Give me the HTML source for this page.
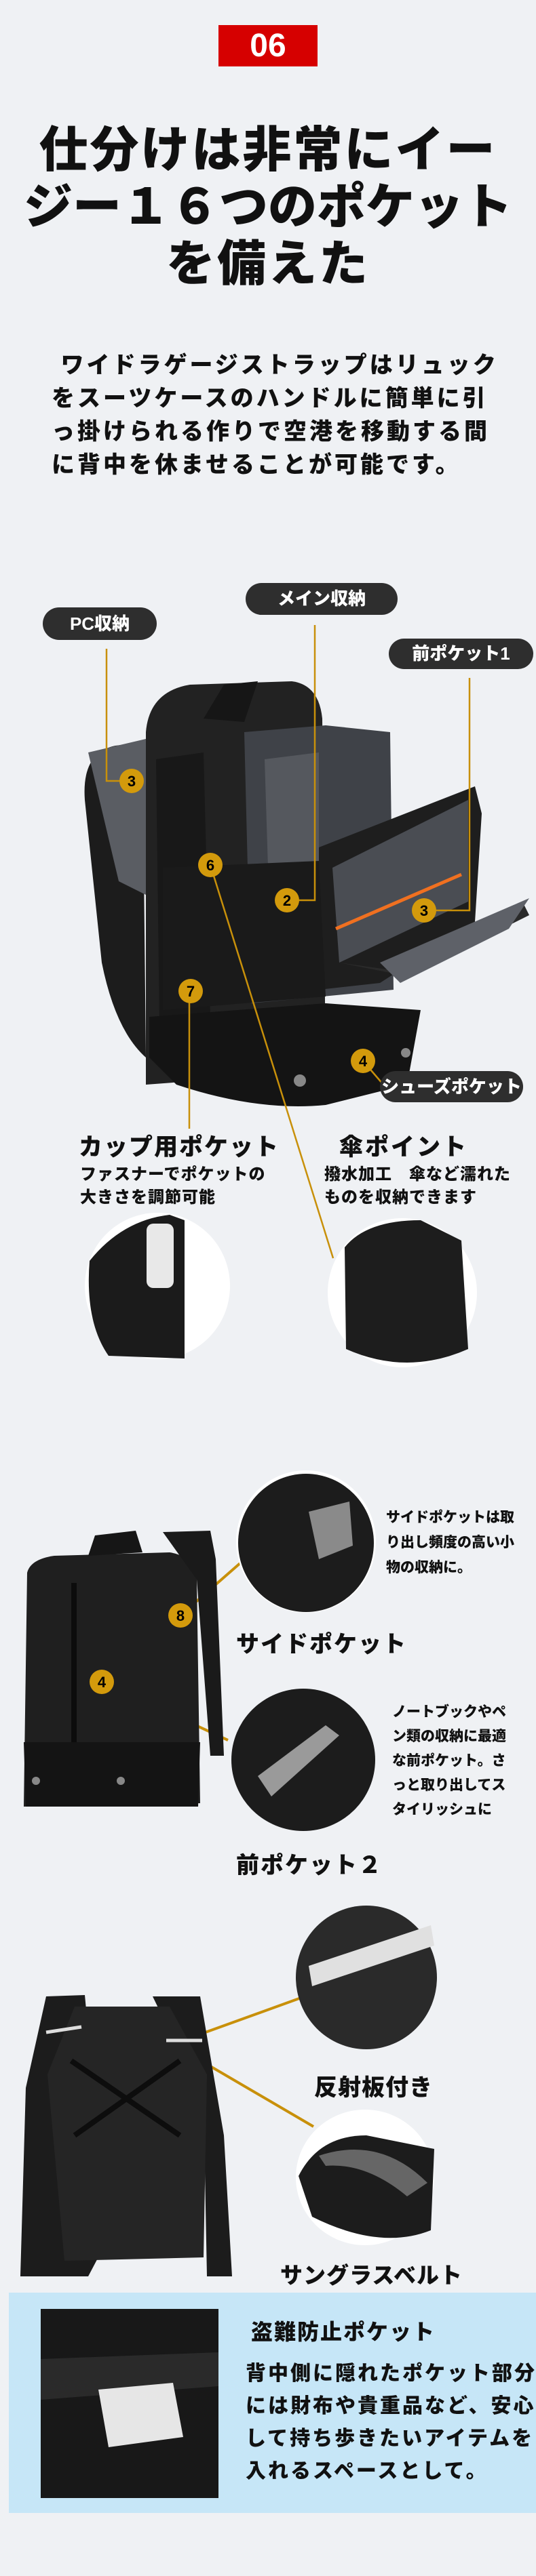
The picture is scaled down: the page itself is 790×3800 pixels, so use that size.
<!DOCTYPE html>
<html><head><meta charset="utf-8">
<style>
*{margin:0;padding:0;box-sizing:border-box}
body{width:790px;height:3800px;background:#eff1f4;position:relative;overflow:hidden;font-family:"Liberation Sans","Noto Sans CJK JP",sans-serif;font-weight:900;color:#111}
.a{position:absolute;white-space:nowrap}
.pill{position:absolute;background:#2e2e2e;color:#fff;border-radius:30px;text-align:center;font-size:26px;font-weight:900}
svg{position:absolute;left:0;top:0}
</style></head><body>
<div class="a" style="left:322px;top:37px;width:146px;height:61px;background:#d60000;color:#fff;font-size:48px;text-align:center;line-height:61px;font-family:'Liberation Sans',sans-serif;font-weight:bold">06</div>
<div class="a" style="left:0;top:180px;width:790px;text-align:center;font-size:72px;line-height:84px;letter-spacing:3px">仕分けは非常にイー<br><span style="letter-spacing:0">ジー１６つのポケット</span><br>を備えた</div>
<div class="a" style="left:76px;top:515px;font-size:34px;line-height:49px;letter-spacing:4px">&nbsp;ワイドラゲージストラップはリュック<br>をスーツケースのハンドルに簡単に引<br>っ掛けられる作りで空港を移動する間<br>に背中を休ませることが可能です。</div>

<svg width="790" height="3800" viewBox="0 0 790 3800">
<g>
<path d="M125 1180 Q120 1110 170 1100 L210 1095 L215 1560 Q170 1520 150 1420 Z" fill="#1c1c1c"/>
<path d="M130 1110 L215 1090 L215 1320 L175 1300 Z" fill="#5a5d63"/>
<path d="M215 1080 Q220 1020 280 1010 L430 1005 Q470 1010 475 1060 L480 1580 L215 1600 Z" fill="#222"/>
<path d="M300 1060 L330 1010 L380 1005 L360 1065 Z" fill="#161616"/>
<path d="M360 1080 L480 1070 L575 1080 L580 1460 L370 1480 Z" fill="#3f4248"/>
<path d="M390 1120 L470 1110 L470 1420 L400 1440 Z" fill="#55585e"/>
<path d="M230 1120 L300 1110 L310 1500 L235 1510 Z" fill="#181818"/>
<path d="M470 1250 L700 1160 L710 1200 L700 1360 L560 1450 L470 1460 Z" fill="#1e1e1e"/>
<path d="M490 1280 L690 1180 L690 1330 L500 1420 Z" fill="#4a4d53"/>
<path d="M495 1370 L680 1290" stroke="#f07020" stroke-width="5" fill="none"/>
<path d="M500 1420 L570 1430 L770 1330 L780 1350 L600 1440 Z" fill="#2a2a2a"/>
<path d="M560 1420 L780 1325 L750 1370 L590 1450 Z" fill="#5e6168"/>
<path d="M220 1560 L260 1600 Q380 1640 480 1630 L600 1600 L620 1490 L480 1480 L220 1500 Z" fill="#141414"/>
<circle cx="442" cy="1594" r="9" fill="#888"/><circle cx="598" cy="1553" r="7" fill="#888"/>
<path d="M240 1280 L470 1270 L480 1470 L240 1490 Z" fill="#1a1a1a"/>
</g>
<g stroke="#c8900a" stroke-width="2.5" fill="none">
<path d="M157 957 L157 1152 L194 1152"/>
<path d="M464 922 L464 1328 L423 1328"/>
<path d="M692 1000 L692 1343 L625 1343"/>
<path d="M279 1462 L279 1665"/>
<path d="M310 1276 L491 1856"/>
<path d="M535 1565 L565 1600"/>
<path d="M363 2298 L266 2383" stroke-width="4"/>
<path d="M150 2481 L336 2567" stroke-width="4"/>
<path d="M300 2999 L441 2948" stroke-width="4"/>
<path d="M298 3041 L462 3137" stroke-width="4"/>
</g>
<g font-family="Liberation Sans,sans-serif" font-weight="bold" font-size="22" text-anchor="middle">
<circle cx="194" cy="1152" r="18" fill="#d39a0c"/><text x="194" y="1160">3</text>
<circle cx="310" cy="1276" r="18" fill="#d39a0c"/><text x="310" y="1284">6</text>
<circle cx="423" cy="1328" r="18" fill="#d39a0c"/><text x="423" y="1336">2</text>
<circle cx="625" cy="1343" r="18" fill="#d39a0c"/><text x="625" y="1351">3</text>
<circle cx="281" cy="1462" r="18" fill="#d39a0c"/><text x="281" y="1470">7</text>
<circle cx="535" cy="1565" r="18" fill="#d39a0c"/><text x="535" y="1573">4</text>
</g>
<ellipse cx="232" cy="1897" rx="107" ry="108" fill="#fff"/>
<path d="M132 1860 Q180 1800 250 1792 L272 1800 L272 2004 L160 2000 Q125 1950 132 1860 Z" fill="#1b1b1b"/>
<rect x="216" y="1805" width="40" height="95" rx="10" fill="#e8e8e8"/>
<ellipse cx="593" cy="1907" rx="110" ry="110" fill="#fff"/>
<path d="M508 1840 Q540 1800 620 1800 L680 1830 L690 1990 Q600 2030 510 1990 Z" fill="#1d1d1d"/>
<path d="M40 2320 Q45 2300 80 2295 L250 2290 Q285 2295 290 2330 L295 2660 L35 2665 Z" fill="#1f1f1f"/>
<path d="M140 2265 L200 2258 L210 2290 L130 2295 Z" fill="#161616"/>
<path d="M240 2260 L310 2258 L318 2300 L330 2590 L310 2590 L290 2330 Z" fill="#1a1a1a"/>
<rect x="105" y="2335" width="8" height="240" fill="#0c0c0c"/>
<path d="M35 2570 L295 2570 L292 2665 L38 2665 Z" fill="#141414"/>
<circle cx="53" cy="2627" r="6" fill="#888"/><circle cx="178" cy="2627" r="6" fill="#888"/>
<circle cx="266" cy="2383" r="18" fill="#d39a0c"/><text x="266" y="2391" font-family="Liberation Sans" font-weight="bold" font-size="22" text-anchor="middle">8</text>
<circle cx="150" cy="2481" r="18" fill="#d39a0c"/><text x="150" y="2489" font-family="Liberation Sans" font-weight="bold" font-size="22" text-anchor="middle">4</text>
<ellipse cx="451" cy="2274" rx="103" ry="105" fill="#fff"/>
<ellipse cx="451" cy="2276" rx="100" ry="102" fill="#1c1c1c"/>
<path d="M455 2230 L515 2215 L520 2280 L470 2300 Z" fill="#8a8a8a"/>
<ellipse cx="447" cy="2596" rx="106" ry="105" fill="#1c1c1c"/>
<path d="M380 2620 L480 2545 L500 2560 L400 2650 Z" fill="#9a9a9a"/>
<ellipse cx="540" cy="2917" rx="104" ry="106" fill="#2a2a2a"/>
<path d="M455 2900 L635 2840 L640 2870 L460 2930 Z" fill="#e0e0e0"/>
<ellipse cx="538" cy="3212" rx="102" ry="100" fill="#fff"/>
<path d="M440 3210 Q470 3150 540 3150 L640 3170 L635 3290 Q560 3320 460 3270 Z" fill="#1c1c1c"/>
<path d="M470 3180 Q560 3150 630 3220 L600 3240 Q540 3190 480 3195 Z" fill="#666"/>
<path d="M68 2945 L125 2943 L135 3050 L150 3320 L130 3358 L30 3358 L38 3080 Z" fill="#1c1c1c"/>
<path d="M225 2945 L295 2945 L330 3150 L342 3358 L305 3358 L300 3100 Z" fill="#1c1c1c"/>
<path d="M110 2960 L250 2960 L305 3060 L300 3330 L95 3335 L70 3060 Z" fill="#252525"/>
<path d="M68 2998 L120 2990" stroke="#ddd" stroke-width="5"/><path d="M245 3010 L298 3010" stroke="#ddd" stroke-width="5"/>
<path d="M105 3040 L265 3150 M265 3040 L110 3150" stroke="#0d0d0d" stroke-width="8"/>
<rect x="13" y="3382" width="777" height="325" fill="#c6e6f7"/>
<rect x="60" y="3406" width="262" height="279" fill="#181818"/>
<path d="M60 3480 L322 3470 L322 3520 L60 3540 Z" fill="#2a2a2a"/>
<path d="M145 3525 L255 3515 L270 3595 L160 3610 Z" fill="#e6e6e6"/>
</svg>

<div class="pill" style="left:63px;top:896px;width:168px;height:48px;line-height:48px">PC収納</div>
<div class="pill" style="left:362px;top:860px;width:224px;height:47px;line-height:47px">メイン収納</div>
<div class="pill" style="left:573px;top:942px;width:213px;height:45px;line-height:45px">前ポケット1</div>
<div class="pill" style="left:560px;top:1580px;width:211px;height:46px;line-height:46px;overflow:hidden">シューズポケット</div>

<div class="a" style="left:116px;top:1664px;font-size:35px;letter-spacing:2px">カップ用ポケット</div>
<div class="a" style="left:118px;top:1716px;font-size:24px;line-height:34px;letter-spacing:1px">ファスナーでポケットの<br>大きさを調節可能</div>
<div class="a" style="left:500px;top:1664px;font-size:35px;letter-spacing:3px">傘ポイント</div>
<div class="a" style="left:478px;top:1716px;font-size:24px;line-height:34px;letter-spacing:1px">撥水加工　傘など濡れた<br>ものを収納できます</div>

<div class="a" style="left:569px;top:2220px;font-size:21px;line-height:37px">サイドポケットは取<br>り出し頻度の高い小<br>物の収納に。</div>
<div class="a" style="left:348px;top:2398px;font-size:34px;letter-spacing:2px">サイドポケット</div>
<div class="a" style="left:578px;top:2508px;font-size:21px;line-height:36px">ノートブックやペ<br>ン類の収納に最適<br>な前ポケット。さ<br>っと取り出してス<br>タイリッシュに</div>
<div class="a" style="left:348px;top:2724px;font-size:34px;letter-spacing:2px">前ポケット２</div>
<div class="a" style="left:463px;top:3052px;font-size:34px;letter-spacing:1px">反射板付き</div>
<div class="a" style="left:413px;top:3330px;font-size:33px;letter-spacing:1px">サングラスベルト</div>
<div class="a" style="left:370px;top:3415px;font-size:32px;letter-spacing:2px">盗難防止ポケット</div>
<div class="a" style="left:362px;top:3478px;font-size:30px;line-height:48px;letter-spacing:3px">背中側に隠れたポケット部分<br>には財布や貴重品など、安心<br>して持ち歩きたいアイテムを<br>入れるスペースとして。</div>
</body></html>
